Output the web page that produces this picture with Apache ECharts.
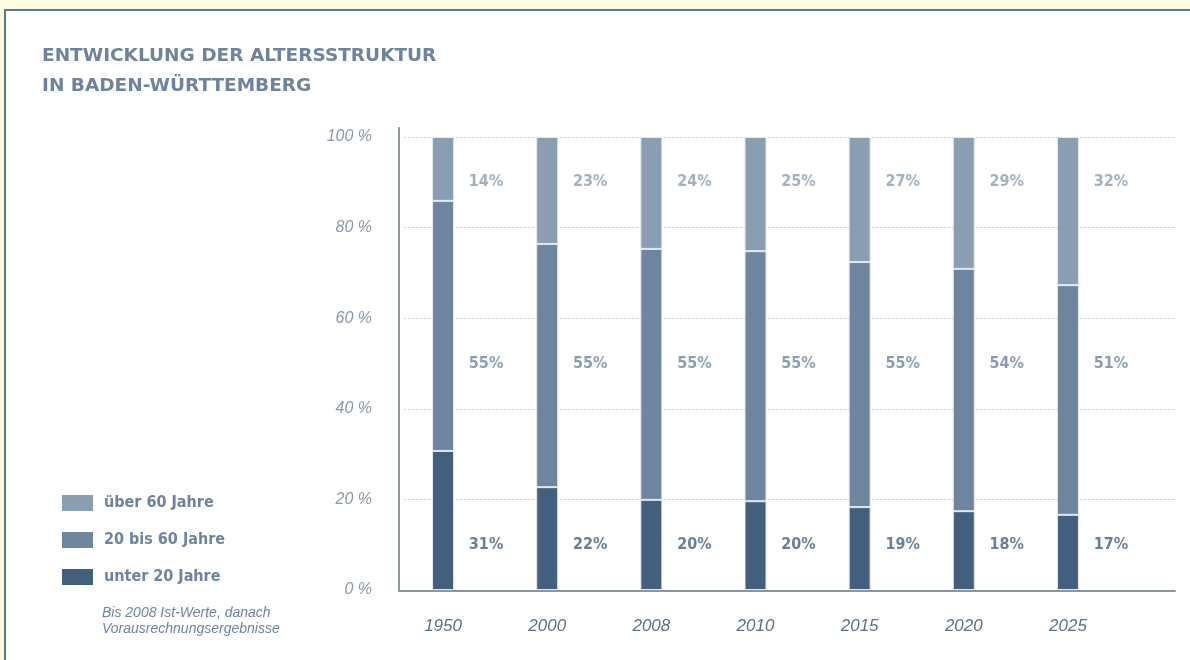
<!DOCTYPE html>
<html>
<head>
<meta charset="utf-8">
<style>
  html, body { margin: 0; padding: 0; background: #fffbe1; }
  .panel { position: absolute; left: 4px; top: 9px; width: 1200px; height: 700px; border: 2px solid #5d7892; background: #fff; }
  #chart { position: absolute; left: 0; top: 0; width: 1190px; height: 660px; }
</style>
<script src="https://cdn.jsdelivr.net/npm/echarts@6/dist/echarts.min.js"></script>
</head>
<body>
<div class="panel"></div>
<div id="chart"></div>
<script>
// Jahre
var years = ['1950', '2000', '2008', '2010', '2015', '2020', '2025']
// Balkenhoehen (aus dem Bild gemessen)
var under20 = [30.7, 22.7, 19.9, 19.6, 18.3, 17.4, 16.6]
var mid2060 = [55.2, 53.7, 55.4, 55.2, 54.1, 53.5, 50.7]
var over60 = [14.1, 23.6, 24.7, 25.2, 27.6, 29.1, 32.7]
// Beschriftungen
var lblUnder20 = [31, 22, 20, 20, 19, 18, 17]
var lblMid = [55, 55, 55, 55, 55, 54, 51]
var lblOver60 = [14, 23, 24, 25, 27, 29, 32]
var yTicks = [0, 20, 40, 60, 80, 100]

var C_TOP = '#8a9db3', C_MID = '#6f859f', C_LOW = '#425f7d'
var FONT_C = '"Liberation Sans Narrow", "DejaVu Sans Condensed", "Liberation Sans", sans-serif'

var myChart = echarts.init(document.getElementById('chart'))

function labelSeries(name, vals, level, color) {
  return {
    name: name + '_lbl',
    type: 'scatter',
    xAxisIndex: 0,
    yAxisIndex: 0,
    symbolSize: 0,
    silent: true,
    z: 5,
    data: vals.map(function (v, i) { return [i, level] }),
    label: {
      show: true,
      position: 'inside',
      offset: [43, 0],
      color: color,
      fontFamily: FONT_C,
      fontWeight: 'bold',
      fontSize: 16,
      formatter: function (p) { return vals[p.dataIndex] + '%' }
    }
  }
}

function barSeries(name, vals, color) {
  return {
    name: name,
    type: 'bar',
    stack: 'all',
    xAxisIndex: 0,
    yAxisIndex: 0,
    barWidth: 22,
    data: vals,
    itemStyle: { color: color, borderColor: '#e3e9f0', borderWidth: 1 }
  }
}

myChart.setOption({
  animation: false,
  title: [{
    text: 'ENTWICKLUNG DER ALTERSSTRUKTUR\nIN BADEN-WÜRTTEMBERG',
    left: 37,
    top: 36,
    textStyle: { color: '#6e849e', fontSize: 18.5, fontWeight: 'bold', lineHeight: 30, fontFamily: '"DejaVu Sans", sans-serif' }
  }, {
    text: 'Bis 2008 Ist-Werte, danach\nVorausrechnungsergebnisse',
    left: 97,
    top: 600,
    textStyle: { color: '#6e849e', fontSize: 14, fontWeight: 'normal', fontStyle: 'italic', lineHeight: 16, fontFamily: '"Liberation Sans", sans-serif' }
  }],
  legend: {
    orient: 'vertical',
    left: 57,
    top: 490,
    itemWidth: 31,
    itemHeight: 16,
    itemGap: 21,
    icon: 'rect',
    selectedMode: false,
    itemStyle: { borderWidth: 0 },
    data: ['über 60 Jahre', '20 bis 60 Jahre', 'unter 20 Jahre'],
    textStyle: { color: '#6e849e', fontFamily: FONT_C, fontWeight: 'bold', fontSize: 16, padding: [0, 0, 0, 6] }
  },
  grid: [
    { left: 391, width: 729, top: 137, bottom: 70 },
    { left: 404, right: 15, top: 137, bottom: 70 },
    { left: 399, right: 15, top: 128, bottom: 69 }
  ],
  xAxis: [{
    type: 'category',
    gridIndex: 0,
    data: years,
    axisLine: { show: false },
    axisTick: { show: false },
    axisLabel: { color: '#5b7088', fontSize: 17, fontStyle: 'italic', margin: 28, fontFamily: '"Liberation Sans", sans-serif' }
  }, {
    type: 'value', gridIndex: 1, show: false
  }, {
    type: 'value', gridIndex: 2, min: 0, max: 1,
    axisLine: { show: true, lineStyle: { color: '#8a979f', width: 2 } },
    axisTick: { show: false }, axisLabel: { show: false }, splitLine: { show: false }
  }],
  yAxis: [{
    type: 'value', gridIndex: 0, min: 0, max: 100, show: false
  }, {
    type: 'value', gridIndex: 1, min: yTicks[0], max: yTicks[yTicks.length - 1], interval: 20,
    axisLine: { show: false }, axisTick: { show: false },
    axisLabel: { color: '#8c99a6', fontSize: 16, fontStyle: 'italic', margin: 32, formatter: '{value} %', fontFamily: '"Liberation Sans", sans-serif' },
    splitLine: { lineStyle: { color: '#c3cbd3', type: [2, 2], width: 1 } }
  }, {
    type: 'value', gridIndex: 2, min: 0, max: 1,
    axisLine: { show: true, lineStyle: { color: '#8a979f', width: 2 } },
    axisTick: { show: false }, axisLabel: { show: false }, splitLine: { show: false }
  }],
  series: [
    barSeries('unter 20 Jahre', under20, C_LOW),
    barSeries('20 bis 60 Jahre', mid2060, C_MID),
    barSeries('über 60 Jahre', over60, C_TOP),
    labelSeries('unter 20 Jahre', lblUnder20, 10, C_LOW),
    labelSeries('20 bis 60 Jahre', lblMid, 50, C_MID),
    labelSeries('über 60 Jahre', lblOver60, 90, C_TOP)
  ]
})
</script>
</body>
</html>
